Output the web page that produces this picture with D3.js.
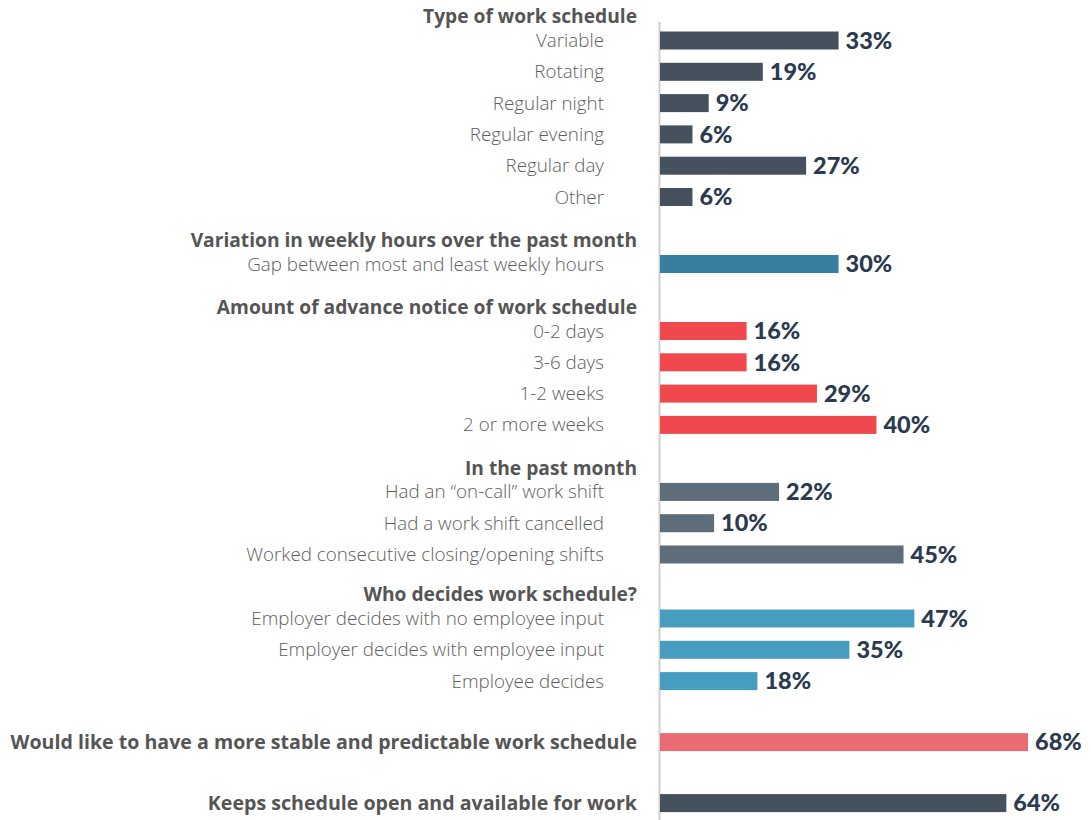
<!DOCTYPE html>
<html>
<head>
<meta charset="utf-8">
<script src="https://d3js.org/d3.v7.min.js"></script>
<style>
  body { margin: 0; background: #fff; }
  svg { display: block; }
</style>
</head>
<body>
<div id="chart"></div>
<script>
// group headings (null = the row stands alone, label in bold)
var groups = [
  "Type of work schedule",
  "Variation in weekly hours over the past month",
  "Amount of advance notice of work schedule",
  "In the past month",
  "Who decides work schedule?",
  null,
  null
];

var groupColors = ["#45525e", "#367f9e", "#ef484d", "#5d6d7a", "#469dbf", "#ea6b73", "#45525e"];

var categories = [
  ["Variable", "Rotating", "Regular night", "Regular evening", "Regular day", "Other"],
  ["Gap between most and least weekly hours"],
  ["0-2 days", "3-6 days", "1-2 weeks", "2 or more weeks"],
  ["Had an \u201con-call\u201d work shift", "Had a work shift cancelled", "Worked consecutive closing/opening shifts"],
  ["Employer decides with no employee input", "Employer decides with employee input", "Employee decides"],
  ["Would like to have a more stable and predictable work schedule"],
  ["Keeps schedule open and available for work"]
];

// bar lengths as drawn in the picture
var values = [
  [33, 19, 9, 6, 27, 6],
  [33],
  [16, 16, 29, 40],
  [22, 10, 45],
  [47, 35, 18],
  [68],
  [64]
];

// printed labels
var valueLabels = [
  ["33%", "19%", "9%", "6%", "27%", "6%"],
  ["30%"],
  ["16%", "16%", "29%", "40%"],
  ["22%", "10%", "45%"],
  ["47%", "35%", "18%"],
  ["68%"],
  ["64%"]
];

var width = 1091, height = 820;

var svg = d3.select("#chart").append("svg")
    .attr("width", width)
    .attr("height", height);

var xScale = d3.scaleLinear()
    .domain([0, 68])
    .range([660, 1028]);

// lay out rows top to bottom
var rows = [];
var heads = [];
var y = 16.5;
groups.forEach(function(g, gi) {
  if (g !== null) {
    heads.push({ text: g, y: y });
    y += 24;
  }
  categories[gi].forEach(function(c, i) {
    rows.push({
      name: c,
      value: values[gi][i],
      label: valueLabels[gi][i],
      color: groupColors[gi],
      bold: g === null,
      y: y
    });
    y += 31.3;
  });
  y = y - 31.3;
  if (gi < 3) y += 43;
  else if (gi < 4) y += 40;
  else y += 61;
});

// vertical axis line
svg.append("line")
    .attr("x1", 659.5).attr("x2", 659.5)
    .attr("y1", 22).attr("y2", height)
    .attr("stroke", "#d0d0d0")
    .attr("stroke-width", 2);

// headers
svg.selectAll(".head")
    .data(heads)
    .enter()
    .append("text")
    .attr("class", "head")
    .attr("x", 637)
    .attr("y", function(d) { return d.y; })
    .attr("dy", "0.35em")
    .attr("text-anchor", "end")
    .style("font-family", "'Open Sans', sans-serif")
    .style("font-weight", "bold")
    .style("font-size", "19.2px")
    .style("fill", "#555")
    .text(function(d) { return d.text; });

// bars
var barH = 18;
svg.selectAll(".bar")
    .data(rows)
    .enter()
    .append("rect")
    .attr("class", "bar")
    .attr("x", xScale(0))
    .attr("y", function(d) { return d.y - barH / 2; })
    .attr("width", function(d) { return xScale(d.value) - xScale(0); })
    .attr("height", barH)
    .attr("fill", function(d) { return d.color; });

// category labels
svg.selectAll(".cat")
    .data(rows)
    .enter()
    .append("text")
    .attr("class", "cat")
    .attr("x", function(d) { return d.bold ? 637 : 604; })
    .attr("y", function(d) { return d.y; })
    .attr("dy", "0.35em")
    .attr("text-anchor", "end")
    .style("font-family", "'Open Sans', sans-serif")
    .style("font-weight", function(d) { return d.bold ? "bold" : "300"; })
    .style("font-size", function(d) { return d.bold ? "19.6px" : "18.8px"; })
    .style("fill", function(d) { return d.bold ? "#555" : "#5e5e5e"; })
    .text(function(d) { return d.name; });

// value labels
svg.selectAll(".val")
    .data(rows)
    .enter()
    .append("text")
    .attr("class", "val")
    .attr("x", function(d) { return xScale(d.value) + 7; })
    .attr("y", function(d) { return d.y; })
    .attr("dy", "0.35em")
    .style("font-family", "Lato, sans-serif")
    .style("font-weight", "900")
    .style("font-size", "23.5px")
    .style("fill", "#2b3a4e")
    .text(function(d) { return d.label; });
</script>
</body>
</html>
